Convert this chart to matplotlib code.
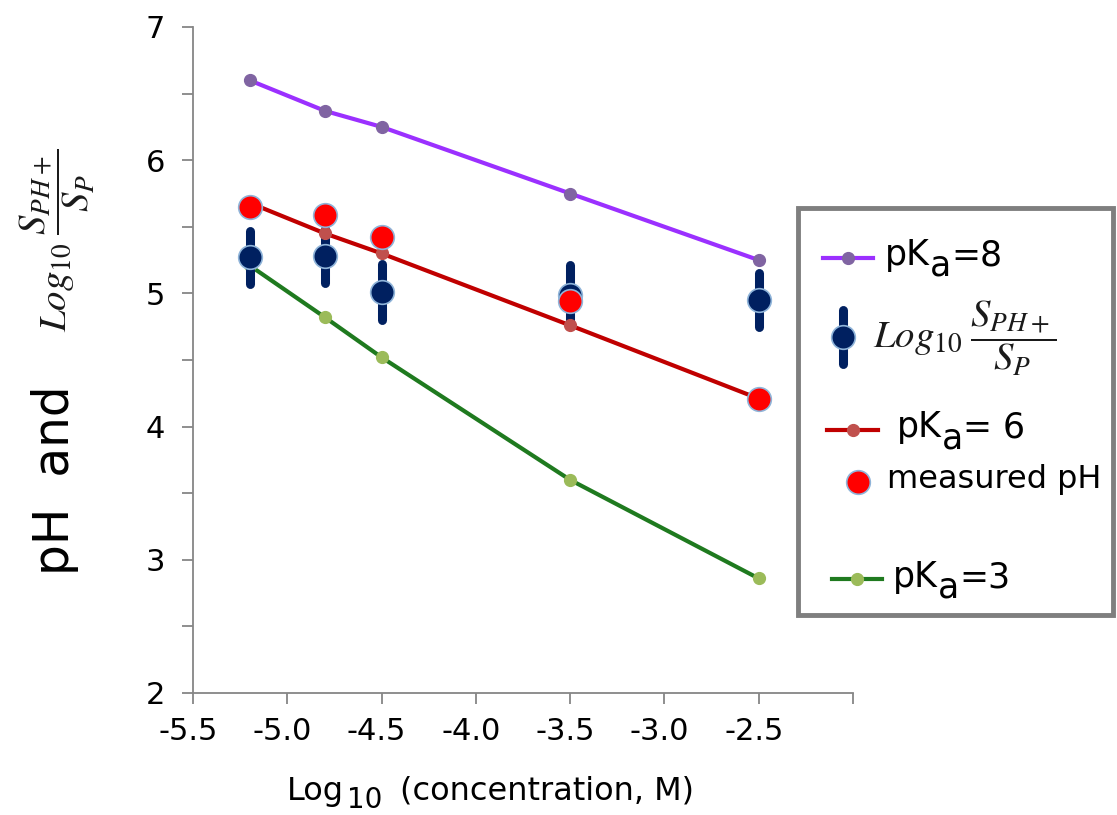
import matplotlib
matplotlib.use("Agg")
import matplotlib.pyplot as plt
import matplotlib.transforms as mtransforms
from matplotlib.lines import Line2D
from matplotlib.patches import Rectangle
from matplotlib.ticker import MultipleLocator

plt.rcParams['font.family'] = ['DejaVu Sans']
plt.rcParams['mathtext.fontset'] = 'stix'

# ---- data ----
log_conc = [-5.2, -4.8, -4.5, -3.5, -2.5]
pka8 = [6.60, 6.37, 6.25, 5.75, 5.25]
pka6 = [5.68, 5.45, 5.30, 4.76, 4.21]
pka3 = [5.21, 4.82, 4.52, 3.60, 2.86]
measured_ph = [5.65, 5.59, 5.42, 4.94, 4.21]
log_ratio = [5.27, 5.28, 5.01, 4.99, 4.95]
log_ratio_err = [0.20, 0.20, 0.21, 0.22, 0.20]
x_ticks = [-5.5, -5.0, -4.5, -4.0, -3.5, -3.0, -2.5, -2.0]
x_tick_labels = ['-5.5', '-5.0', '-4.5', '-4.0', '-3.5', '-3.0', '-2.5', '']
y_ticks = [2, 3, 4, 5, 6, 7]

# ---- colours ----
c8_line, c8_mk = '#9B30FF', '#8064A2'
c6_line, c6_mk = '#C00000', '#C0504D'
c3_line, c3_mk = '#1F7A1F', '#9BBB59'
navy = '#002060'
edge = '#8FB4D9'
ph_red = '#FF0000'

W, H = 1117, 815
fig = plt.figure(figsize=(W / 100, H / 100), dpi=100)
ax = fig.add_axes([193 / W, 1 - 693 / H, (853 - 193) / W, (693 - 27) / H])

ax.plot(log_conc, pka3, color=c3_line, lw=3, marker='o', ms=8.5,
        mfc=c3_mk, mec=c3_mk, zorder=2)
eb = ax.errorbar(log_conc, log_ratio, yerr=log_ratio_err, fmt='o', ms=17,
                 color=navy, mfc=navy, mec=edge, mew=1.2, elinewidth=6.5,
                 capsize=0, zorder=3)
for lc in eb[2]:
    lc.set_capstyle('round')
ax.plot(log_conc, pka6, color=c6_line, lw=3, marker='o', ms=8.5,
        mfc=c6_mk, mec=c6_mk, zorder=4)
ax.plot(log_conc, measured_ph, ls='none', marker='o', ms=17,
        mfc=ph_red, mec=edge, mew=1.2, zorder=5)
ax.plot(log_conc, pka8, color=c8_line, lw=3, marker='o', ms=8.5,
        mfc=c8_mk, mec=c8_mk, zorder=4)

ax.set_xlim(-5.5, -2.0)
ax.set_ylim(2, 7)
ax.set_xticks(x_ticks)
ax.set_xticklabels(x_tick_labels)
ax.set_yticks(y_ticks)
ax.yaxis.set_minor_locator(MultipleLocator(0.5))
for s in ['top', 'right']:
    ax.spines[s].set_visible(False)
for s in ['left', 'bottom']:
    ax.spines[s].set_color('#868686')
    ax.spines[s].set_linewidth(1.3)
ax.tick_params(axis='both', which='both', direction='out', length=8,
               width=1.3, color='#868686', labelsize=22)
ax.tick_params(axis='x', pad=9)
ax.tick_params(axis='y', pad=12)
shift = mtransforms.ScaledTranslation(-5 / 100, 0, fig.dpi_scale_trans)
for lbl in ax.get_xticklabels():
    lbl.set_transform(lbl.get_transform() + shift)

renderer = fig.canvas.get_renderer()


def pieces(x_px, y_px, parts, z=12):
    """Place consecutive text pieces; parts = (text, size, dy_px, gap_px)."""
    x = x_px
    for txt, size, dy, gap in parts:
        t = fig.text(x / W, 1 - (y_px + dy) / H, txt, fontsize=size,
                     va='baseline', ha='left', zorder=z)
        bb = t.get_window_extent(renderer=renderer)
        x = bb.x1 + gap


# x label
pieces(287, 800, [('Log', 23, 0, 3), ('10', 20, 8, 18),
                  ('(concentration, M)', 23, 0, 0)])

# y label pieces
fig.text(55 / W, 1 - 480 / H, 'pH  and', rotation=90, fontsize=35,
         ha='center', va='center')
math_lbl = r'$\mathit{Log}_{10}\;\dfrac{S_{PH+}}{S_{P}}$'
fig.text(57 / W, 1 - 240 / H, math_lbl, rotation=90, fontsize=28,
         ha='center', va='center', color='#1a1a1a')

# ---- legend (manual) ----
fig.patches.append(Rectangle((798 / W, 1 - 615 / H), (1113 - 798) / W,
                             (615 - 208) / H, transform=fig.transFigure,
                             facecolor='white', edgecolor='#7F7F7F', lw=3.5,
                             zorder=10))


def leg_line(x0, x1, y, lc, mc):
    yy = 1 - y / H
    fig.add_artist(Line2D([x0 / W, x1 / W], [yy, yy], color=lc, lw=3,
                          transform=fig.transFigure, zorder=11))
    fig.add_artist(Line2D([(x0 + x1) / 2 / W], [yy], marker='o', ms=8.5,
                          mfc=mc, mec=mc, ls='none',
                          transform=fig.transFigure, zorder=12))


leg_line(823, 873, 258, c8_line, c8_mk)
pieces(885, 265, [('pK', 25, 0, 0), ('a', 25, 11, 0), ('=8', 25, 0, 0)])

# log ratio entry
fig.add_artist(Line2D([843 / W, 843 / W], [1 - 310 / H, 1 - 364 / H],
                      color=navy, lw=6.5, solid_capstyle='round',
                      transform=fig.transFigure, zorder=11))
fig.add_artist(Line2D([843 / W], [1 - 337 / H], marker='o', ms=17, mfc=navy,
                      mec=edge, mew=1.2, ls='none',
                      transform=fig.transFigure, zorder=12))
fig.text(873 / W, 1 - 338 / H, math_lbl, fontsize=28, va='center',
         zorder=12, color='#1a1a1a')

leg_line(827, 878, 430, c6_line, c6_mk)
pieces(897, 437, [('pK', 25, 0, 0), ('a', 25, 11, 0), ('= 6', 25, 0, 0)])

fig.add_artist(Line2D([858 / W], [1 - 482 / H], marker='o', ms=17, mfc=ph_red,
                      mec=edge, mew=1.2, ls='none',
                      transform=fig.transFigure, zorder=12))
pieces(887, 488, [('measured pH', 23, 0, 0)])

leg_line(832, 882, 579, c3_line, c3_mk)
pieces(893, 587, [('pK', 25, 0, 0), ('a', 25, 11, 0), ('=3', 25, 0, 0)])

fig.savefig('out.png', dpi=100)
